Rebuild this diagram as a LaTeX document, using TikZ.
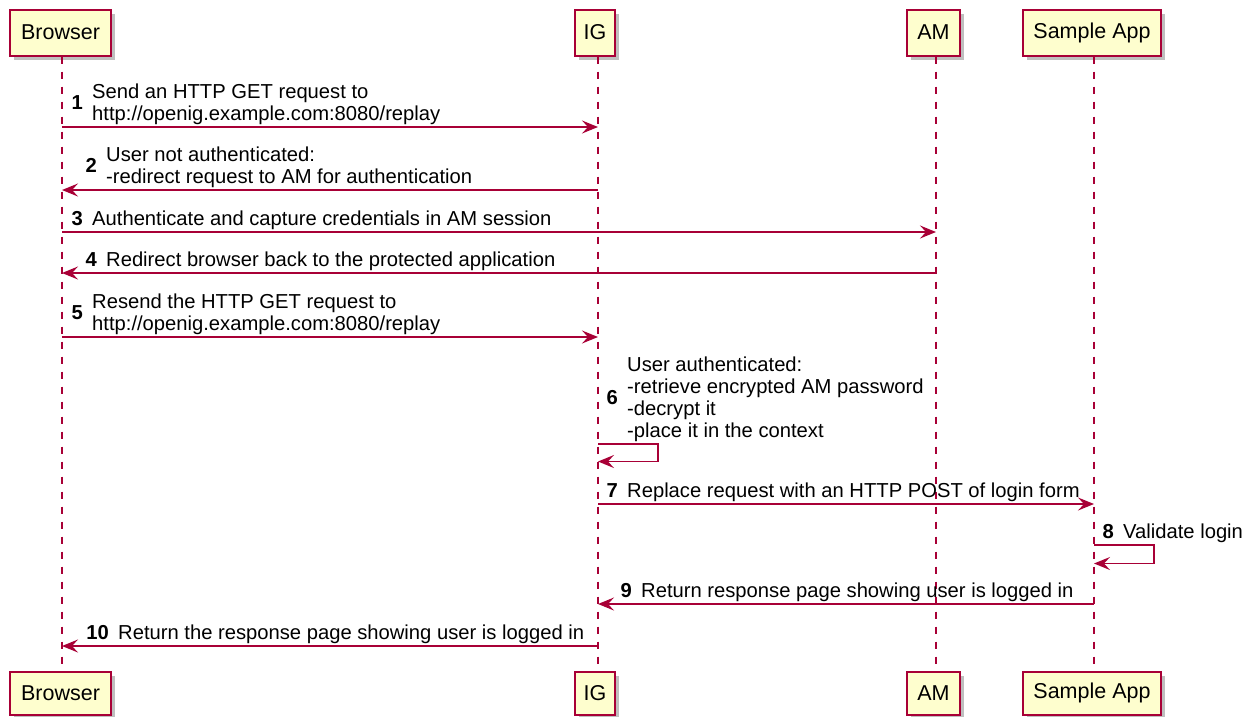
\documentclass[tikz,border=0pt]{standalone}
\usepackage{fontspec}
\setmainfont{Liberation Sans}
\usetikzlibrary{arrows.meta,shadows}
\definecolor{pborder}{HTML}{A80036}
\definecolor{pfill}{HTML}{FEFECE}
\newcommand{\plabel}[1]{\raisebox{-2.5pt}{#1}}
\tikzset{
  part/.style={draw=pborder, fill=pfill, line width=2pt, inner sep=0pt,
    font=\fontsize{21.5}{25}\selectfont,
    drop shadow={shadow xshift=4pt, shadow yshift=-4pt, opacity=0.25, fill=black}},
  life/.style={draw=pborder, line width=1.5pt, dash pattern=on 7.5pt off 7.5pt},
  msg/.style={draw=pborder, line width=1.5pt, -{Stealth[length=16pt,width=13pt,inset=6pt]}},
  txt/.style={inner sep=0pt, anchor=base west, font=\fontsize{20.2}{22}\selectfont},
  num/.style={inner sep=0pt, anchor=base east, font=\fontsize{20.2}{22}\selectfont\bfseries},
}
\begin{document}
\begin{tikzpicture}[x=1pt,y=-1pt]
\useasboundingbox (0,0) rectangle (1259,716);
% participants
\node[part, minimum width=101pt, minimum height=46pt] (Bt) at (60.5,32.5) {\plabel{Browser}};
\node[part, minimum width=40pt, minimum height=46pt] (It) at (595,32.5) {\plabel{IG}};
\node[part, minimum width=53pt, minimum height=46pt] (At) at (933.5,32.5) {\plabel{AM}};
\node[part, minimum width=138pt, minimum height=46pt] (St) at (1092,32.5) {\plabel{Sample App}};
\node[part, minimum width=101pt, minimum height=43pt] (Bb) at (60.5,693) {\plabel{Browser}};
\node[part, minimum width=40pt, minimum height=43pt] (Ib) at (595,693) {\plabel{IG}};
\node[part, minimum width=53pt, minimum height=43pt] (Ab) at (933.5,693) {\plabel{AM}};
\node[part, minimum width=138pt, minimum height=43pt] (Sb) at (1092,693) {\plabel{Sample App}};
% lifeline x positions
\coordinate (LB) at (62,0);
\coordinate (LI) at (598,0);
\coordinate (LA) at (936,0);
\coordinate (LS) at (1094,0);
\draw[life] (LB |- Bt.south) -- (LB |- Bb.north);
\draw[life] (LI |- It.south) -- (LI |- Ib.north);
\draw[life] (LA |- At.south) -- (LA |- Ab.north);
\draw[life] (LS |- St.south) -- (LS |- Sb.north);
% 1
\draw[msg] (LB |- 0,127) -- (LI |- 0,127);
\node[txt] (t1a) at (92,98.5) {Send an HTTP GET request to};
\node[txt] (t1b) at (92,120.5) {http://openig.example.com:8080/replay};
\node[num] (n1) at (83,109.5) {1};
% 2
\draw[msg] (LI |- 0,190) -- (LB |- 0,190);
\node[txt] (t2a) at (106,161.5) {User not authenticated:};
\node[txt] (t2b) at (106,183.5) {-redirect request to AM for authentication};
\node[num] (n2) at (97,172.5) {2};
% 3
\draw[msg] (LB |- 0,232) -- (LA |- 0,232);
\node[txt] (t3) at (92,225.5) {Authenticate and capture credentials in AM session};
\node[num] (n3) at (83,225.5) {3};
% 4
\draw[msg] (LA |- 0,273) -- (LB |- 0,273);
\node[txt] (t4) at (106,266.5) {Redirect browser back to the protected application};
\node[num] (n4) at (97,266.5) {4};
% 5
\draw[msg] (LB |- 0,337) -- (LI |- 0,337);
\node[txt] (t5a) at (92,308.5) {Resend the HTTP GET request to};
\node[txt] (t5b) at (92,330.5) {http://openig.example.com:8080/replay};
\node[num] (n5) at (83,319.5) {5};
% 6
\draw[msg] (LI |- 0,444) -- ++(60,0) -- ++(0,17.5) -- (LI |- 0,461.5);
\node[txt] (t6a) at (627,371.5) {User authenticated:};
\node[txt] (t6b) at (627,393.5) {-retrieve encrypted AM password};
\node[txt] (t6c) at (627,415.5) {-decrypt it};
\node[txt] (t6d) at (627,437.5) {-place it in the context};
\node[num] (n6) at (618,404.5) {6};
% 7
\draw[msg] (LI |- 0,504) -- (LS |- 0,504);
\node[txt] (t7) at (627,497.5) {Replace request with an HTTP POST of login form};
\node[num] (n7) at (618,497.5) {7};
% 8
\draw[msg] (LS |- 0,545) -- ++(60,0) -- ++(0,18.5) -- (LS |- 0,563.5);
\node[txt] (t8) at (1123,538.5) {Validate login};
\node[num] (n8) at (1114,538.5) {8};
% 9
\draw[msg] (LS |- 0,604) -- (LI |- 0,604);
\node[txt] (t9) at (641,597.5) {Return response page showing user is logged in};
\node[num] (n9) at (632,597.5) {9};
% 10
\draw[msg] (LI |- 0,646) -- (LB |- 0,646);
\node[txt] (t10) at (118,639.5) {Return the response page showing user is logged in};
\node[num] (n10) at (109,639.5) {10};
\end{tikzpicture}
\end{document}
